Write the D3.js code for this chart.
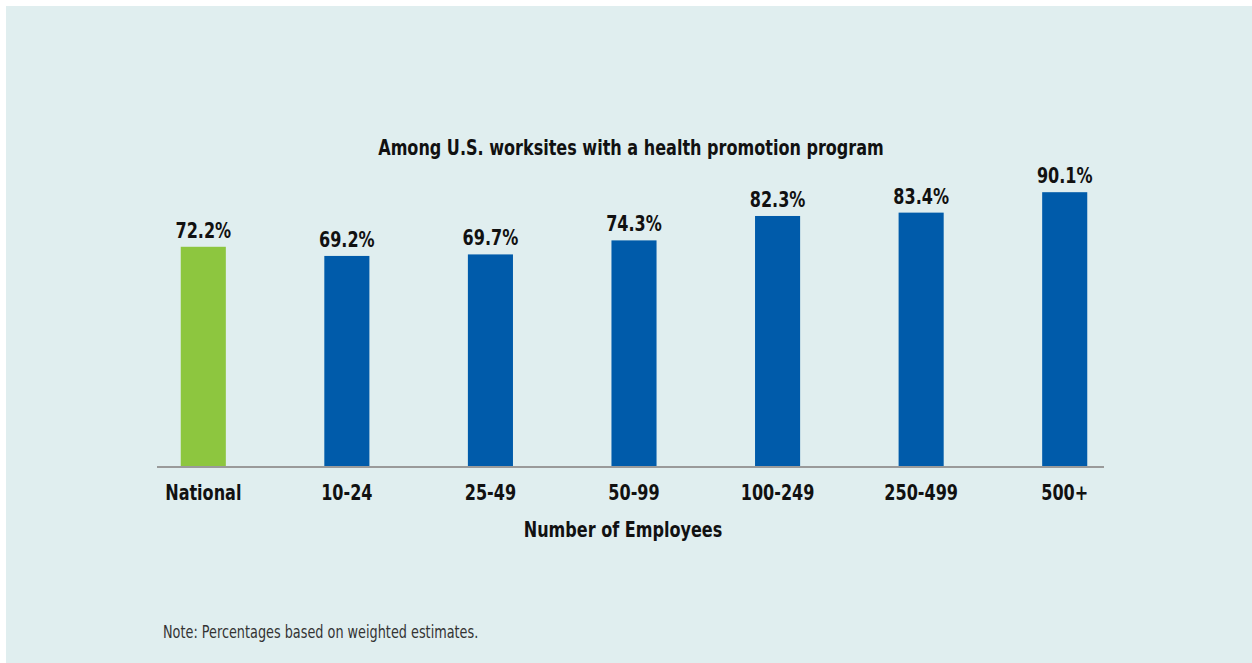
<!DOCTYPE html>
<html>
<head>
<meta charset="utf-8">
<script src="https://cdn.jsdelivr.net/npm/d3@7"></script>
<style>
  html, body { margin: 0; padding: 0; background: #ffffff; }
  svg text { font-family: "DejaVu Sans Condensed", "Liberation Sans Narrow", "Arial Narrow", sans-serif; }
</style>
</head>
<body>
<svg id="chart" width="1252" height="663"></svg>
<script>
// Share of worksites, by size, among U.S. worksites with a health promotion program
const categories = ["National", "10-24", "25-49", "50-99", "100-249", "250-499", "500+"];
const values = [72.2, 69.2, 69.7, 74.3, 82.3, 83.4, 90.1];
const barColors = ["#8dc63f", "#005baa", "#005baa", "#005baa", "#005baa", "#005baa", "#005baa"];

const title = "Among U.S. worksites with a health promotion program";
const xTitle = "Number of Employees";
const note = "Note: Percentages based on weighted estimates.";

const svg = d3.select("#chart");
const W = 1252, H = 663;
const narrow = 0.85; // horizontal squeeze for the condensed bold lettering

// panel background
svg.append("rect")
  .attr("x", 6).attr("y", 6)
  .attr("width", W - 6).attr("height", H - 6)
  .attr("fill", "#e0eeef");

const plot = { left: 131.5, right: 1136.5, top: 162, bottom: 467 };

const x = d3.scaleBand()
  .domain(categories)
  .range([plot.left, plot.right])
  .paddingInner(0.686)
  .paddingOuter(0.343);

const y = d3.scaleLinear()
  .domain([0, 100])
  .range([plot.bottom, plot.top]);

// place a text at (px, py), squeezed horizontally
function placed(sel, px, py, sx) {
  return sel.attr("transform", (d, i) => {
    const X = typeof px === "function" ? px(d, i) : px;
    const Y = typeof py === "function" ? py(d, i) : py;
    return `translate(${X},${Y}) scale(${sx},1)`;
  });
}

// bars
svg.append("g").selectAll("rect")
  .data(values)
  .join("rect")
  .attr("x", (d, i) => x(categories[i]))
  .attr("y", d => y(d))
  .attr("width", x.bandwidth())
  .attr("height", d => y(0) - y(d))
  .attr("fill", (d, i) => barColors[i]);

// value labels
placed(
  svg.append("g").selectAll("text")
    .data(values)
    .join("text")
    .attr("text-anchor", "middle")
    .attr("font-size", 21)
    .attr("font-weight", "bold")
    .attr("fill", "#111")
    .text(d => d.toFixed(1) + "%"),
  (d, i) => x(categories[i]) + x.bandwidth() / 2,
  d => y(d) - 9,
  narrow
);

// baseline axis
const xAxis = d3.axisBottom(x).tickSize(0).tickPadding(18);
const gx = svg.append("g")
  .attr("transform", `translate(0,${plot.bottom})`)
  .call(xAxis);
gx.select(".domain")
  .attr("d", `M157,0H1104`)
  .attr("stroke", "#9a9a9a")
  .attr("stroke-width", 2);
gx.selectAll(".tick text")
  .attr("font-size", 21)
  .attr("font-weight", "bold")
  .attr("fill", "#111")
  .attr("dy", "0.71em")
  .attr("transform", `scale(${narrow},1)`);

// axis title
placed(
  svg.append("text")
    .attr("text-anchor", "middle")
    .attr("font-size", 21)
    .attr("font-weight", "bold")
    .attr("fill", "#111")
    .text(xTitle),
  623, 537, narrow
);

// chart title
placed(
  svg.append("text")
    .attr("text-anchor", "middle")
    .attr("font-size", 21)
    .attr("font-weight", "bold")
    .attr("fill", "#111")
    .text(title),
  631, 155, narrow
);

// footnote
placed(
  svg.append("text")
    .attr("font-size", 17)
    .attr("fill", "#333")
    .text(note),
  163, 638, 0.84
);
</script>
</body>
</html>
